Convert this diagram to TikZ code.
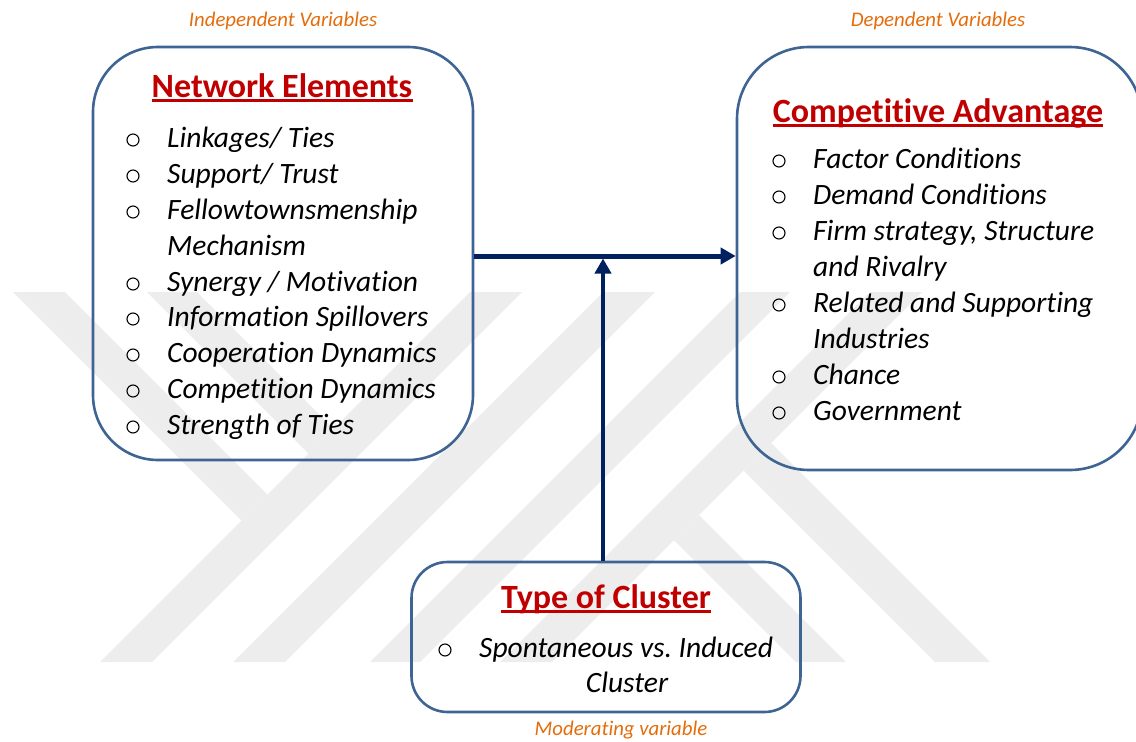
\documentclass[tikz,border=0pt]{standalone}
\usepackage{fontspec}
\setmainfont{Carlito}[Ligatures=NoCommon]
\usetikzlibrary{arrows.meta}
\definecolor{boxblue}{RGB}{62,100,148}
\definecolor{navy}{RGB}{0,32,96}
\definecolor{titlered}{RGB}{192,0,0}
\definecolor{varorange}{RGB}{228,108,10}
\definecolor{markgray}{RGB}{237,237,237}
\begin{document}
\begin{tikzpicture}[x=1pt,y=-1pt,
  panel/.style={draw=boxblue, line width=2.6pt, rounded corners=#1, inner sep=0pt},
  heading/.style={font=\fontsize{34}{40}\selectfont\bfseries, text=titlered, inner sep=0pt, anchor=base},
  headline/.style={draw=titlered, line width=2.3pt},
  entry/.style={font=\fontsize{29.5}{36}\selectfont\itshape, inner sep=0pt, anchor=base west},
  entrymid/.style={font=\fontsize{29.5}{36}\selectfont\itshape, inner sep=0pt, anchor=base},
  bullet/.style={circle, draw=black, line width=1.1pt, minimum size=12pt, inner sep=0pt},
  varlabel/.style={font=\fontsize{20.8}{24}\selectfont\itshape, text=varorange, inner sep=0pt, anchor=base},
  link/.style={draw=navy, -{Triangle[length=15pt,width=16pt]}}
]
\useasboundingbox (0,0) rectangle (1136,742);

% faint emblem in the background
\begin{scope}[fill=markgray]
  \fill (470,292) -- (522,292) -- (152,662) -- (100,662) -- cycle;
  \fill (603,292) -- (655,292) -- (285,662) -- (233,662) -- cycle;
  \fill (13,292) -- (65,292) -- (267.5,494.5) -- (241.5,520.5) -- cycle;
  \fill (147,292) -- (197,292) -- (333.5,428.5) -- (308.5,453.5) -- cycle;
  \fill (740,292) -- (790,292) -- (420,662) -- (370,662) -- cycle;
  \fill (870,292) -- (922,292) -- (552,662) -- (500,662) -- cycle;
  \fill (796,662) -- (846,662) -- (699,515) -- (674,540) -- cycle;
  \fill (935,662) -- (990,662) -- (771,443) -- (743.5,470.5) -- cycle;
\end{scope}

% panels
\node[panel=65, minimum width=380pt, minimum height=413pt] (netbox) at (283,253.5) {};
\node[panel=72, minimum width=405pt, minimum height=423pt] (compbox) at (939.5,258.5) {};
\node[panel=36, minimum width=389pt, minimum height=150pt] (clusterbox) at (606,637) {};

% variable labels
\node[varlabel] (indep) at (283,26) {Independent Variables};
\node[varlabel] (dep) at (938,26) {Dependent Variables};
\node[varlabel] (moder) at (621,735) {Moderating variable};

% network elements
\node[heading] (nettitle) at (282,97) {Network Elements};
\draw[headline] ([yshift=-3.5pt]nettitle.base west) -- ([yshift=-3.5pt]nettitle.base east);
\node[bullet] (nb1) at (133,140) {};
\node[entry] (ne1) at (167,147) {Linkages/ Ties};
\node[bullet] (nb2) at (133,176) {};
\node[entry] (ne2) at (167,183) {Support/ Trust};
\node[bullet] (nb3) at (133,212) {};
\node[entry] (ne3) at (167,219) {Fellowtownsmenship};
\node[entry] (ne3b) at (167,255) {Mechanism};
\node[bullet] (nb4) at (133,284) {};
\node[entry] (ne4) at (167,291) {Synergy / Motivation};
\node[bullet] (nb5) at (133,319) {};
\node[entry] (ne5) at (167,326) {Information Spillovers};
\node[bullet] (nb6) at (133,355) {};
\node[entry] (ne6) at (167,362) {Cooperation Dynamics};
\node[bullet] (nb7) at (133,391) {};
\node[entry] (ne7) at (167,398) {Competition Dynamics};
\node[bullet] (nb8) at (133,427) {};
\node[entry] (ne8) at (167,434) {Strength of Ties};

% competitive advantage
\node[heading] (comptitle) at (938,122) {Competitive Advantage};
\draw[headline] ([yshift=-3.5pt]comptitle.base west) -- ([yshift=-3.5pt]comptitle.base east);
\node[bullet] (cb1) at (779,161) {};
\node[entry] (ce1) at (813,168) {Factor Conditions};
\node[bullet] (cb2) at (779,197) {};
\node[entry] (ce2) at (813,204) {Demand Conditions};
\node[bullet] (cb3) at (779,233) {};
\node[entry] (ce3) at (813,240) {Firm strategy, Structure};
\node[entry] (ce3b) at (813,276) {and Rivalry};
\node[bullet] (cb4) at (779,305) {};
\node[entry] (ce4) at (813,312) {Related and Supporting};
\node[entry] (ce4b) at (813,348) {Industries};
\node[bullet] (cb5) at (779,377) {};
\node[entry] (ce5) at (813,384) {Chance};
\node[bullet] (cb6) at (779,413) {};
\node[entry] (ce6) at (813,420) {Government};

% type of cluster
\node[heading] (clustertitle) at (606,608) {Type of Cluster};
\draw[headline] ([yshift=-3.5pt]clustertitle.base west) -- ([yshift=-3.5pt]clustertitle.base east);
\node[bullet] (kb1) at (445,650) {};
\node[entry] (ke1) at (479,657) {Spontaneous vs.\ Induced};
\node[entrymid] (ke1b) at (627,692) {Cluster};

% connectors
\coordinate (meet) at (603,258.5);
\draw[link, line width=5pt] (netbox.east |- 0,256) -- (compbox.west |- 0,256);
\draw[link, line width=4pt] (clusterbox.north -| meet) -- (meet);
\end{tikzpicture}
\end{document}
